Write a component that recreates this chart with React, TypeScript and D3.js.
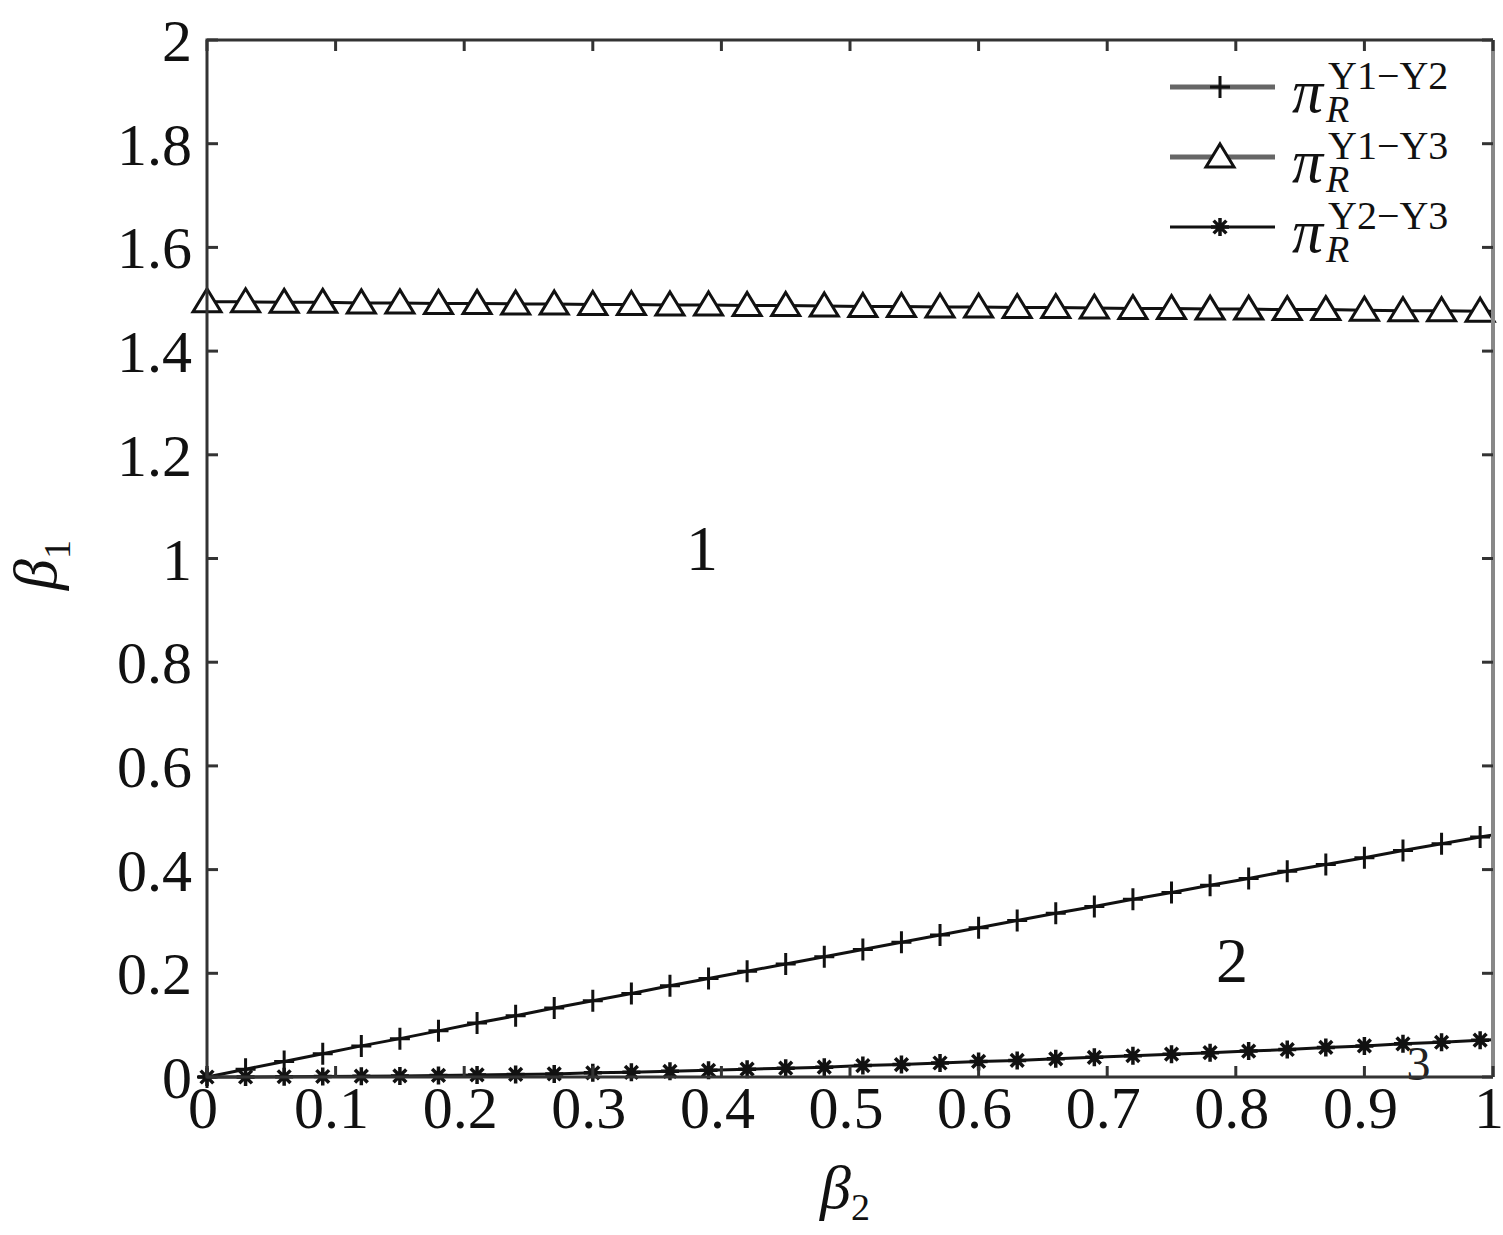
import React, { useEffect, useRef } from 'react';
import * as d3 from 'd3';

// beta2 sample points (last point is the line end, no marker there)
const beta2 = [
  0, 0.03, 0.06, 0.09, 0.12, 0.15, 0.18, 0.21, 0.24, 0.27, 0.3, 0.33, 0.36,
  0.39, 0.42, 0.45, 0.48, 0.51, 0.54, 0.57, 0.6, 0.63, 0.66, 0.69, 0.72, 0.75,
  0.78, 0.81, 0.84, 0.87, 0.9, 0.93, 0.96, 0.99, 1.0,
];

const piY1Y2 = [
  0, 0.015, 0.03, 0.045, 0.06, 0.074, 0.089, 0.104, 0.118, 0.133, 0.147,
  0.161, 0.176, 0.19, 0.204, 0.218, 0.232, 0.246, 0.26, 0.274, 0.288, 0.302,
  0.316, 0.329, 0.343, 0.356, 0.37, 0.383, 0.397, 0.41, 0.423, 0.437, 0.45,
  0.463, 0.467,
];

const piY1Y3 = [
  1.495, 1.495, 1.494, 1.494, 1.493, 1.493, 1.492, 1.492, 1.491, 1.491, 1.49,
  1.49, 1.489, 1.489, 1.488, 1.488, 1.487, 1.486, 1.486, 1.485, 1.485, 1.484,
  1.484, 1.483, 1.482, 1.482, 1.481, 1.481, 1.48, 1.48, 1.479, 1.478, 1.478,
  1.477, 1.477,
];

const piY2Y3 = [
  0, 0, 0.0005, 0.001, 0.0015, 0.002, 0.003, 0.004, 0.005, 0.006, 0.008,
  0.009, 0.011, 0.013, 0.015, 0.017, 0.019, 0.022, 0.024, 0.027, 0.03, 0.032,
  0.035, 0.038, 0.041, 0.044, 0.047, 0.05, 0.053, 0.057, 0.06, 0.064, 0.067,
  0.071, 0.072,
];

const xTicks = [0, 0.1, 0.2, 0.3, 0.4, 0.5, 0.6, 0.7, 0.8, 0.9, 1];
const yTicks = [0, 0.2, 0.4, 0.6, 0.8, 1, 1.2, 1.4, 1.6, 1.8, 2];

const legendItems = [
  { sup: 'Y1\u2212Y2', marker: 'plus', color: '#666' },
  { sup: 'Y1\u2212Y3', marker: 'triangle', color: '#666' },
  { sup: 'Y2\u2212Y3', marker: 'star', color: '#111' },
];

const regionLabels = [
  { text: '1', x: 0.385, y: 1.02 },
  { text: '2', x: 0.797, y: 0.225 },
];

const FONT = '"Liberation Serif", "DejaVu Serif", serif';

const App = () => {
  const ref = useRef<SVGSVGElement>(null);

  useEffect(() => {
    const svg = d3.select(ref.current);
    svg.selectAll('*').remove();

    const left = 207;
    const right = 1493;
    const top = 40;
    const bottom = 1077;

    const x = d3.scaleLinear().domain([0, 1]).range([left, right]);
    const y = d3.scaleLinear().domain([0, 2]).range([bottom, top]);

    svg.append('rect').attr('width', 1503).attr('height', 1235).attr('fill', 'white');

    const drawMarker = (
      g: d3.Selection<SVGGElement, unknown, null, undefined>,
      kind: string,
      cx: number,
      cy: number,
    ) => {
      if (kind === 'plus') {
        g.append('path')
          .attr('d', `M${cx - 10},${cy}H${cx + 10}M${cx},${cy - 11}V${cy + 11}`)
          .attr('stroke', '#111')
          .attr('stroke-width', 3)
          .attr('fill', 'none');
      } else if (kind === 'triangle') {
        g.append('path')
          .attr('d', `M${cx},${cy - 13}L${cx + 14},${cy + 10}L${cx - 14},${cy + 10}Z`)
          .attr('stroke', '#111')
          .attr('stroke-width', 3)
          .attr('fill', 'white');
      } else {
        const r = 9;
        let d = '';
        for (let k = 0; k < 4; k++) {
          const a = (k * Math.PI) / 4;
          d += `M${cx - r * Math.cos(a)},${cy - r * Math.sin(a)}L${cx + r * Math.cos(a)},${cy + r * Math.sin(a)}`;
        }
        g.append('path')
          .attr('d', d)
          .attr('stroke', '#111')
          .attr('stroke-width', 3.5)
          .attr('fill', 'none');
      }
    };

    // region "3" sits under the lower curve
    svg
      .append('text')
      .attr('x', x(0.942))
      .attr('y', y(-0.005))
      .attr('text-anchor', 'middle')
      .attr('font-family', FONT)
      .attr('font-size', 48)
      .attr('fill', '#222')
      .text('3');

    const line = d3
      .line<number>()
      .x((_, i) => x(beta2[i]))
      .y((d) => y(d));

    const series = [
      { values: piY1Y3, marker: 'triangle' },
      { values: piY1Y2, marker: 'plus' },
      { values: piY2Y3, marker: 'star' },
    ];

    series.forEach((s) => {
      svg
        .append('path')
        .attr('d', line(s.values))
        .attr('fill', 'none')
        .attr('stroke', '#111')
        .attr('stroke-width', 3);
      const g = svg.append('g');
      s.values.forEach((v, i) => {
        if (i === s.values.length - 1) return;
        drawMarker(g, s.marker, x(beta2[i]), y(v));
      });
    });

    // frame
    svg
      .append('path')
      .attr('d', `M${right},${top}H${left}V${bottom}H${right}`)
      .attr('fill', 'none')
      .attr('stroke', '#333')
      .attr('stroke-width', 3);
    svg
      .append('line')
      .attr('x1', right)
      .attr('x2', right)
      .attr('y1', top)
      .attr('y2', bottom)
      .attr('stroke', '#888')
      .attr('stroke-width', 4);

    const ticks = svg.append('g').attr('stroke', '#333').attr('stroke-width', 3);
    xTicks.forEach((t) => {
      ticks.append('line').attr('x1', x(t)).attr('x2', x(t)).attr('y1', bottom).attr('y2', bottom - 11);
      ticks.append('line').attr('x1', x(t)).attr('x2', x(t)).attr('y1', top).attr('y2', top + 11);
    });
    yTicks.forEach((t) => {
      ticks.append('line').attr('x1', left).attr('x2', left + 11).attr('y1', y(t)).attr('y2', y(t));
      ticks.append('line').attr('x1', right).attr('x2', right - 11).attr('y1', y(t)).attr('y2', y(t));
    });

    const labels = svg
      .append('g')
      .attr('font-family', FONT)
      .attr('font-size', 60)
      .attr('fill', '#111');

    xTicks.forEach((t) => {
      labels
        .append('text')
        .attr('x', x(t) - 4)
        .attr('y', bottom + 51)
        .attr('text-anchor', 'middle')
        .text(d3.format('~g')(t));
    });
    yTicks.forEach((t) => {
      labels
        .append('text')
        .attr('x', 192)
        .attr('y', y(t) + 21)
        .attr('text-anchor', 'end')
        .text(d3.format('~g')(t));
    });

    regionLabels.forEach((r) => {
      labels
        .append('text')
        .attr('x', x(r.x))
        .attr('y', y(r.y) + 22)
        .attr('text-anchor', 'middle')
        .attr('font-size', 64)
        .text(r.text);
    });

    // axis titles
    const xt = labels
      .append('text')
      .attr('x', 820)
      .attr('y', 1208)
      .attr('font-style', 'italic')
      .attr('font-size', 62);
    xt.append('tspan').text('\u03b2');
    xt.append('tspan').attr('font-size', 38).attr('font-style', 'normal').attr('dy', 12).text('2');

    const yt = labels
      .append('text')
      .attr('transform', 'translate(56,590) rotate(-90)')
      .attr('font-style', 'italic')
      .attr('font-size', 62);
    yt.append('tspan').text('\u03b2');
    yt.append('tspan').attr('font-size', 38).attr('font-style', 'normal').attr('dy', 14).text('1');

    // legend
    legendItems.forEach((item, i) => {
      const ly = 87 + i * 70;
      const g = svg.append('g');
      g.append('line')
        .attr('x1', 1170)
        .attr('x2', 1275)
        .attr('y1', ly)
        .attr('y2', ly)
        .attr('stroke', item.color)
        .attr('stroke-width', i < 2 ? 5 : 3);
      drawMarker(g, item.marker, 1220, ly);
      const t = g
        .append('text')
        .attr('x', 1292)
        .attr('y', ly + 25)
        .attr('font-family', FONT)
        .attr('fill', '#111');
      t.append('tspan').attr('font-size', 62).attr('font-style', 'italic').text('\u03c0');
      const piEnd = 1292 + 34;
      t.append('tspan')
        .attr('x', piEnd)
        .attr('dy', 10)
        .attr('font-size', 38)
        .attr('font-style', 'italic')
        .text('R');
      t.append('tspan')
        .attr('x', piEnd + 2)
        .attr('dy', -33)
        .attr('font-size', 40)
        .text(item.sup);
    });
  }, []);

  return (
    <svg
      ref={ref}
      width={1503}
      height={1235}
      style={{ position: 'absolute', left: 0, top: 0 }}
    />
  );
};

export default App;
